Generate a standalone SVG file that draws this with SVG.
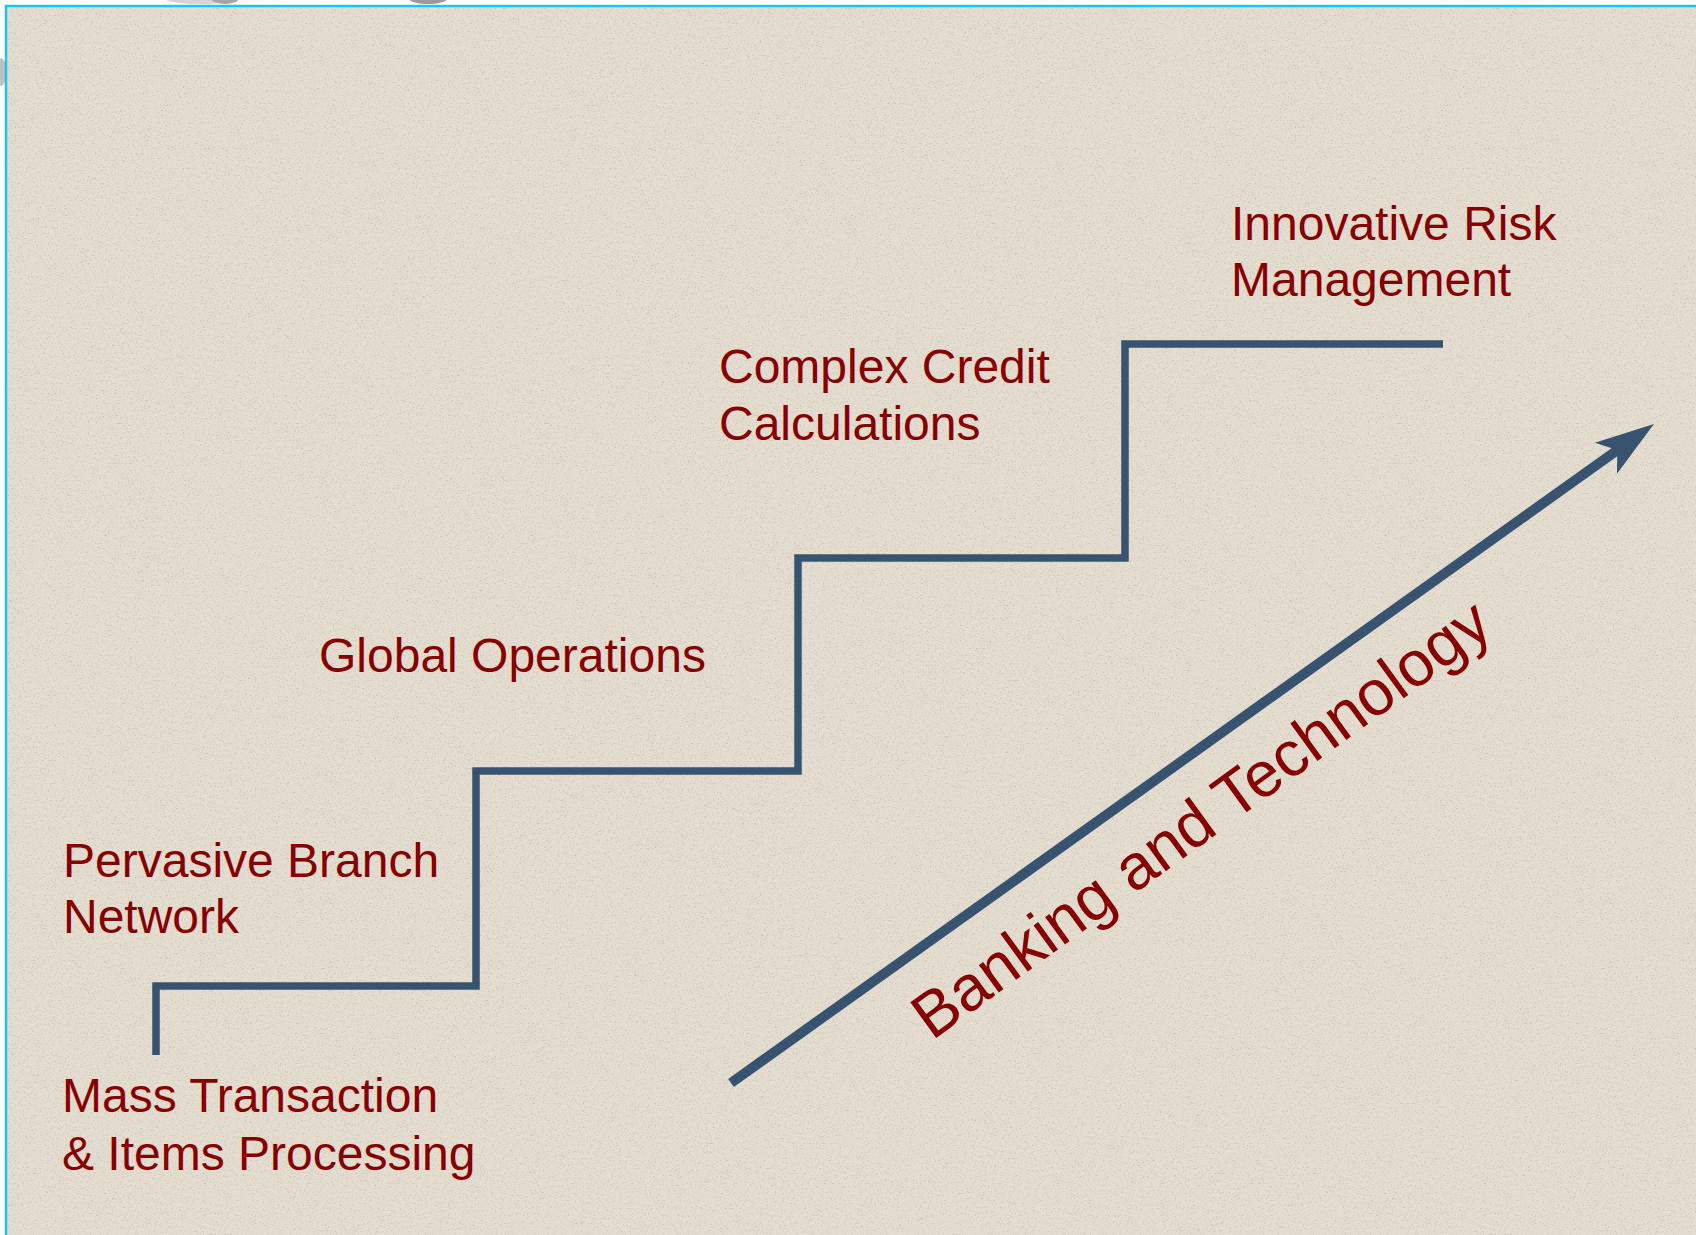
<svg xmlns="http://www.w3.org/2000/svg" width="1696" height="1235" viewBox="0 0 1696 1235">
  <defs>
    <style>
      .lbl { font-family: "Liberation Sans", Arial, sans-serif; font-size: 48px; fill: #870000; }
      .big { font-family: "Liberation Sans", Arial, sans-serif; font-size: 64px; fill: #870000; }
      .stair { fill: none; stroke: #37536f; stroke-width: 7.5; stroke-linejoin: miter; stroke-linecap: butt; }
      .arrow { fill: none; stroke: #37536f; stroke-width: 10; stroke-linecap: butt; }
    </style>
    <marker id="head" markerUnits="userSpaceOnUse" orient="auto" refX="0" refY="0" markerWidth="120" markerHeight="60" viewBox="-30 -30 120 60" overflow="visible">
      <path d="M40,0 L-19,-19 L-5,0 L-19,19 Z" fill="#37536f"/>
    </marker>
    <filter id="grain" x="0" y="0" width="100%" height="100%" filterUnits="objectBoundingBox">
      <feTurbulence type="fractalNoise" baseFrequency="0.6" numOctaves="2" seed="7" result="n"/>
      <feColorMatrix in="n" type="matrix" values="0 0 0 0 0.45  0 0 0 0 0.42  0 0 0 0 0.38  -1.6 0 0 0 0.72"/>
    </filter>
  </defs>

  <g id="backdrop">
    <rect x="0" y="0" width="1696" height="1235" fill="#ffffff"/>
    <ellipse cx="200" cy="-4" rx="40" ry="8" fill="#d4d4d4"/>
    <ellipse cx="225" cy="-2" rx="14" ry="6" fill="#a5a5a5"/>
    <ellipse cx="428" cy="-4" rx="22" ry="8" fill="#9a9a9a"/>
    <ellipse cx="0" cy="72" rx="7" ry="14" fill="#c0c0c0"/>
    <rect x="6" y="6" width="1700" height="1240" fill="#e4dccf" stroke="#19c6ee" stroke-width="2.5"/>
    <rect x="7" y="7" width="1689" height="1228" filter="url(#grain)"/>
  </g>

  <g id="connectors">
    <path id="staircase" class="stair" d="M156,1055 V986 H476 V771 H798 V558 H1125 V344 H1443"/>
    <line id="trend-arrow" class="arrow" x1="731" y1="1083" x2="1621.4" y2="447.2" marker-end="url(#head)"/>
  </g>

  <g id="node-mass">
    <text class="lbl" x="62" y="1112">Mass Transaction</text>
    <text class="lbl" x="62" y="1170">&amp; Items Processing</text>
  </g>
  <g id="node-branch">
    <text class="lbl" x="63" y="877">Pervasive Branch</text>
    <text class="lbl" x="63" y="933">Network</text>
  </g>
  <g id="node-global">
    <text class="lbl" x="319" y="672">Global Operations</text>
  </g>
  <g id="node-credit">
    <text class="lbl" x="719" y="383">Complex Credit</text>
    <text class="lbl" x="719" y="440">Calculations</text>
  </g>
  <g id="node-risk">
    <text class="lbl" x="1231" y="240">Innovative Risk</text>
    <text class="lbl" x="1231" y="296">Management</text>
  </g>
  <g id="axis-label">
    <text class="big" transform="translate(932,1041) rotate(-36)">Banking and Technology</text>
  </g>
</svg>
